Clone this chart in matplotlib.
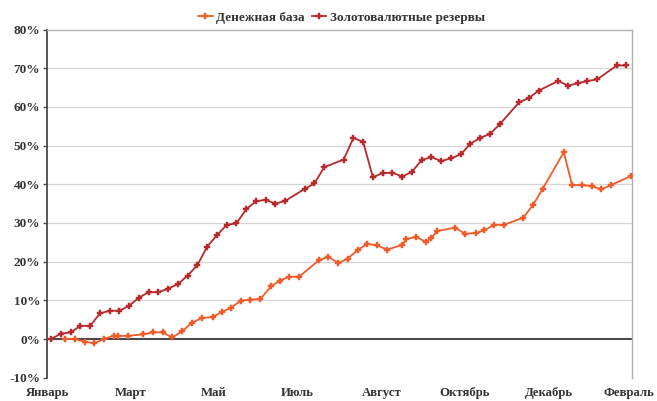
import matplotlib
matplotlib.use("Agg")
import matplotlib.pyplot as plt

# Days since the start of the axis (January); one label every 60 days
reserves_days = [3, 10, 17, 24, 31, 38, 45, 52, 59, 66, 73, 80, 87, 94, 101, 108, 115, 122,
                 129, 136, 143, 150, 157, 164, 171, 185, 192, 199, 213, 220, 227, 234, 241,
                 248, 255, 262, 269, 276, 283, 290, 297, 304, 311, 318, 325, 339, 346, 353,
                 367, 374, 381, 388, 395, 409, 416]
reserves_pct = [0, 1.4, 1.7, 3.4, 3.4, 6.6, 7.3, 7.3, 8.6, 10.7, 12.1, 12.1, 13.0, 14.2, 16.4,
                19.1, 23.9, 26.8, 29.5, 29.9, 33.5, 35.6, 36.0, 35.0, 35.7, 38.8, 40.2, 44.4,
                46.4, 52.0, 50.9, 41.8, 42.9, 43.0, 42.0, 43.2, 46.3, 47.0, 46.0, 46.7, 47.7,
                50.5, 52.0, 53.0, 55.5, 61.2, 62.3, 64.2, 66.7, 65.5, 66.1, 66.7, 67.1, 70.7,
                70.7]

base_days = [13, 20, 27, 34, 41, 48, 51, 58, 69, 76, 83, 90, 97, 104, 111, 119, 126, 132, 139,
             146, 153, 161, 167, 174, 181, 195, 202, 209, 216, 223, 230, 237, 244, 255, 258,
             265, 272, 276, 280, 293, 300, 308, 314, 321, 328, 342, 349, 356, 371, 377, 384,
             391, 398, 405, 419]
base_pct = [0, 0, -0.7, -1.1, 0, 0.9, 0.8, 0.8, 1.2, 1.7, 1.7, 0.4, 2.0, 4.2, 5.4, 5.7, 7.1,
            8.0, 9.9, 10.2, 10.3, 13.6, 15.1, 16.1, 16.1, 20.3, 21.3, 19.6, 20.8, 23.0, 24.6,
            24.2, 23.1, 24.3, 25.8, 26.4, 25.1, 26.1, 27.9, 28.8, 27.2, 27.4, 28.1, 29.5, 29.5,
            31.4, 34.7, 38.9, 48.3, 39.8, 39.8, 39.5, 38.7, 39.8, 42.1]

month_labels = ["Январь", "Март", "Май", "Июль", "Август", "Октябрь", "Декабрь", "Февраль"]
month_ticks = [0, 60, 120, 180, 240, 300, 360, 418]
y_ticks = [-10, 0, 10, 20, 30, 40, 50, 60, 70, 80]

series_names = ["Денежная база", "Золотовалютные резервы"]

plt.rcParams["font.family"] = ["Liberation Serif", "DejaVu Serif"]
plt.rcParams["font.weight"] = "bold"

fig = plt.figure(figsize=(6.57, 4.01), dpi=100)
ax = fig.add_axes([0.0715, 0.0581, 0.8905, 0.8683])

c_base = "#F15A29"
c_res = "#B8292B"

ax.plot(base_days, base_pct, color=c_base, lw=1.3, marker="P", ms=4.2,
        markeredgewidth=0.3, label=series_names[0], zorder=3)
ax.plot(reserves_days, reserves_pct, color=c_res, lw=1.3, marker="P", ms=4.2,
        markeredgewidth=0.3, label=series_names[1], zorder=3)

ax.set_xlim(0, 420)
ax.set_ylim(-10, 80)
ax.set_yticks(y_ticks)
ax.set_yticklabels([f"{v}%" for v in y_ticks])
ax.set_xticks(month_ticks)
ax.set_xticklabels(month_labels)

for v in y_ticks:
    if v in (-10, 80, 0):
        continue
    ax.axhline(v, color="#d4d4d4", lw=0.9, zorder=1)
ax.axhline(0, color="#4a4a4a", lw=1.5, zorder=2)

for s in ["top", "right"]:
    ax.spines[s].set_color("#b0b0b0")
    ax.spines[s].set_linewidth(1.0)
ax.spines["bottom"].set_visible(False)
ax.spines["left"].set_color("#4a4a4a")
ax.spines["left"].set_linewidth(1.3)

ax.tick_params(axis="y", direction="out", length=3, width=1, color="#4a4a4a",
               labelsize=9.5, pad=2, labelcolor="#333333")
ax.tick_params(axis="x", length=0, labelsize=9.2, pad=7, labelcolor="#333333")

fig.legend(loc="upper center", bbox_to_anchor=(0.52, 1.0), ncol=2, frameon=False,
           fontsize=9.5, handlelength=1.1, handletextpad=0.3, columnspacing=0.5,
           labelcolor="#333333")

fig.savefig("out.png", dpi=100)
